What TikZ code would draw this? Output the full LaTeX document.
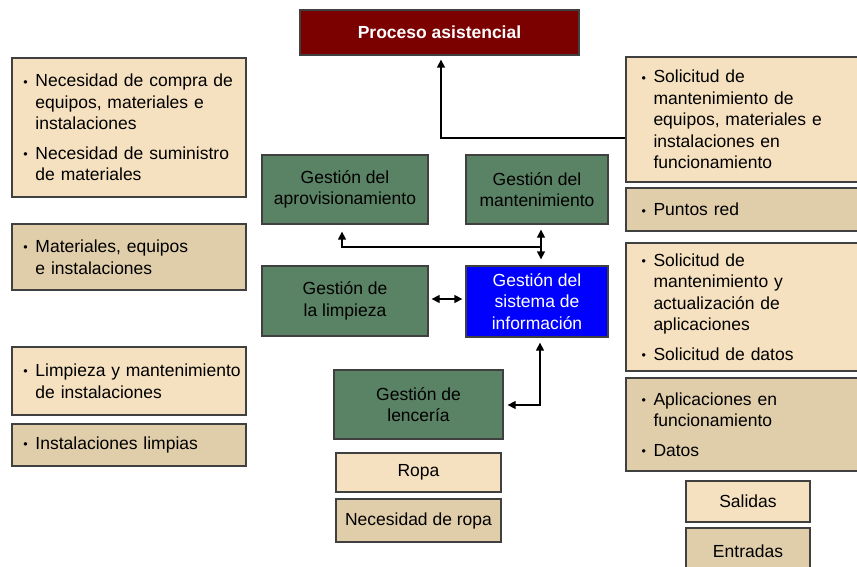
\documentclass[tikz,border=0pt]{standalone}
\usepackage{fontspec}
\setmainfont{Liberation Sans}
\usetikzlibrary{arrows.meta}

\definecolor{procred}{HTML}{7B0000}
\definecolor{outlight}{HTML}{F5E1C0}
\definecolor{indark}{HTML}{E0CEAA}
\definecolor{gestgreen}{HTML}{5A8264}
\definecolor{siblue}{HTML}{0000FF}
\definecolor{edge}{HTML}{404040}

% bullet item helpers
\newcommand{\bul}{\makebox[12.5pt][l]{\hspace{0.5pt}\raisebox{0.6pt}{\fontsize{12.5}{12.5}\selectfont\textbullet}}}
\newcommand{\ind}{\hspace*{12.5pt}}

\tikzset{
  basebox/.style={rectangle, draw=edge, line width=1.3pt, inner ysep=0pt,
    font=\fontsize{17.5}{21.5}\selectfont},
  gestbox/.style={basebox, fill=gestgreen, align=center, text=black},
  listbox/.style={basebox, align=left, inner xsep=11pt},
  salbox/.style={listbox, fill=outlight},
  entbox/.style={listbox, fill=indark},
  link/.style={line width=1.3pt, black},
  tip/.tip={Triangle[length=8pt, width=8pt]}
}

\begin{document}
\begin{tikzpicture}[x=1pt, y=-1pt]
\useasboundingbox (0,0) rectangle (857,567);

% top process
\node[basebox, fill=procred, text=white, font=\fontsize{17.5}{21.5}\selectfont\bfseries,
      minimum width=279pt, minimum height=45pt] (proc) at (439.5,32.5) {Proceso asistencial};

% left column
\node[salbox, minimum width=234pt, minimum height=139pt, text width=212pt] (l1) at (129,127.5)
  {\bul Necesidad de compra de\\ \ind equipos, materiales e\\ \ind instalaciones\\[8pt]
   \bul Necesidad de suministro\\ \ind de materiales};
\node[entbox, minimum width=234pt, minimum height=66pt, text width=212pt] (l2) at (129,257)
  {\bul Materiales, equipos\\ \ind e instalaciones};
\node[salbox, minimum width=234pt, minimum height=68pt, text width=212pt] (l3) at (129,381)
  {\mbox{\bul Limpieza y mantenimiento}\\ \ind de instalaciones};
\node[entbox, minimum width=234pt, minimum height=42pt, text width=212pt] (l4) at (129,445)
  {\bul Instalaciones limpias};

% management areas
\node[gestbox, minimum width=166pt, minimum height=69pt] (aprov) at (345,189.5)
  {Gestión del\\aprovisionamiento};
\node[gestbox, minimum width=142pt, minimum height=69pt] (mant) at (537,189.5)
  {Gestión del\\mantenimiento};
\node[gestbox, minimum width=166pt, minimum height=70pt] (limp) at (345,301)
  {Gestión de\\la limpieza};
\node[gestbox, fill=siblue, text=white, minimum width=142pt, minimum height=71pt] (si) at (537,301.5)
  {Gestión del\\sistema de\\información};
\node[gestbox, minimum width=169pt, minimum height=69pt] (lenc) at (418.5,404.5)
  {Gestión de\\lencería};

% linen flows
\node[basebox, fill=outlight, minimum width=165pt, minimum height=39pt] (ropa) at (418.5,472.5) {Ropa};
\node[basebox, fill=indark, minimum width=165pt, minimum height=43pt] (nropa) at (418.5,520.5) {Necesidad de ropa};

% right column
\node[salbox, inner xsep=15pt, minimum width=254pt, minimum height=125pt, text width=224pt] (r1) at (753,119.5)
  {\bul Solicitud de\\ \ind mantenimiento de\\ \ind equipos, materiales e\\ \ind instalaciones en\\ \ind funcionamiento};
\node[entbox, inner xsep=15pt, minimum width=254pt, minimum height=43pt, text width=224pt] (r2) at (753,209.5)
  {\bul Puntos red};
\node[salbox, inner xsep=15pt, minimum width=254pt, minimum height=128pt, text width=224pt] (r3) at (753,307)
  {\bul Solicitud de\\ \ind mantenimiento y\\ \ind actualización de\\ \ind aplicaciones\\[8pt]
   \bul Solicitud de datos};
\node[entbox, inner xsep=15pt, minimum width=254pt, minimum height=93pt, text width=224pt] (r4) at (753,424.5)
  {\bul Aplicaciones en\\ \ind funcionamiento\\[8pt] \bul Datos};

% legend
\node[basebox, fill=outlight, minimum width=124pt, minimum height=41pt] (sal) at (748,501.5) {Salidas};
\node[basebox, fill=indark, minimum width=124pt, minimum height=47pt] (ent) at (748,551.5) {Entradas};

% connectors
\coordinate (cp) at (441,138);
\draw[link, -{tip}] (r1.west |- cp) -- (cp) -- ([yshift=-4pt]cp |- proc.south);

\coordinate (ja) at (342,247);
\coordinate (jm) at (541,247);
\draw[link, {tip}-, shorten <=7pt] (ja |- aprov.south) -- (ja) -- (jm);
\draw[link, {tip}-{tip}, shorten <=5pt, shorten >=6pt] (jm |- mant.south) -- (jm |- si.north);

\draw[link, {tip}-{tip}, shorten <=3pt, shorten >=3pt] (limp.east |- 0,299) -- (si.west |- 0,299);

\coordinate (jl) at (540,405);
\draw[link, {tip}-{tip}, shorten <=5pt, shorten >=4pt] (jl |- si.south) -- (jl) -- (jl -| lenc.east);
\end{tikzpicture}
\end{document}
